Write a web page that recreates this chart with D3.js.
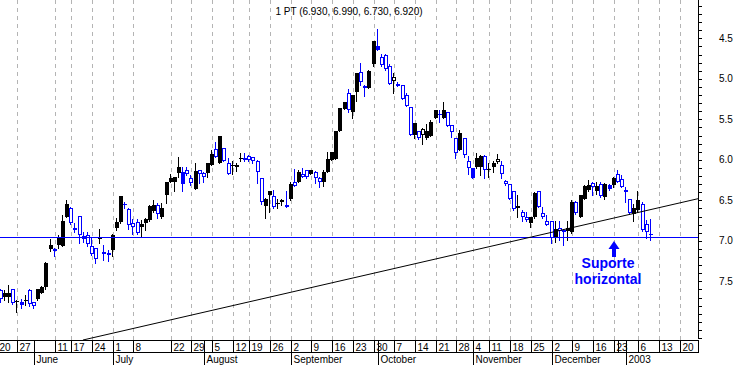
<!DOCTYPE html>
<html><head><meta charset="utf-8">
<script src="https://cdn.jsdelivr.net/npm/d3@7"></script>
<style>html,body{margin:0;padding:0;background:#fff;overflow:hidden}svg{display:block}</style>
</head><body>
<svg id="chart" width="738" height="365"></svg>
<script>
// ---- data: one entry per trading day, 21 May 2002 .. 9 Jan 2003 ----
const opens = [7.61,7.69,7.69,7.59,7.75,7.79,7.74,7.61,7.76,7.72,7.64,7.57,7.10,7.10,7.05,7.06,6.70,6.59,6.87,6.69,
6.94,6.93,7.07,7.09,6.98,7.14,7.15,7.11,6.84,6.77,6.56,6.61,6.78,6.77,6.83,6.78,6.74,6.63,6.56,6.71,
6.43,6.28,6.28,6.16,6.30,6.12,6.23,6.36,6.13,6.16,6.16,6.07,5.87,6.04,5.86,6.04,6.08,6.09,5.99,5.98,
5.95,5.97,6.01,6.23,6.57,6.44,6.45,6.54,6.50,6.58,6.48,6.28,6.27,6.18,6.13,6.17,6.15,6.22,6.27,6.15,
6.00,5.99,5.65,5.37,5.17,5.41,5.16,4.92,5.09,5.11,4.82,4.64,4.73,4.71,4.84,4.98,5.09,5.08,5.20,5.35,
5.69,5.65,5.62,5.73,5.70,5.48,5.45,5.48,5.41,5.57,5.73,5.88,5.73,6.01,6.22,6.09,6.09,5.95,6.12,6.09,
5.99,6.06,6.26,6.30,6.39,6.57,6.64,6.70,6.78,6.71,6.39,6.66,6.76,6.76,6.95,6.84,6.87,6.88,6.89,6.52,
6.71,6.48,6.37,6.29,6.39,6.30,6.46,6.36,6.31,6.18,6.24,6.37,6.49,6.67,6.62,6.54,6.79,6.93];
const highs = [7.76,7.73,7.75,7.78,7.88,7.83,7.79,7.80,7.83,7.73,7.65,7.59,7.13,7.19,7.09,7.06,6.71,6.79,6.89,7.03,
7.01,7.07,7.18,7.28,7.03,7.24,7.25,7.19,6.87,6.78,6.60,6.85,6.91,6.91,6.94,6.87,6.75,6.64,6.72,6.72,
6.53,6.28,6.38,6.21,6.39,6.19,6.31,6.36,6.29,6.28,6.21,6.07,5.97,6.04,6.02,6.18,6.17,6.14,6.02,6.02,
6.02,6.04,6.29,6.54,6.72,6.64,6.60,6.60,6.56,6.58,6.50,6.32,6.27,6.21,6.22,6.18,6.29,6.33,6.32,6.15,
6.00,5.99,5.65,5.37,5.41,5.48,5.28,5.08,5.21,5.11,4.84,4.64,4.84,4.89,5.07,5.18,5.09,5.25,5.34,5.69,
5.73,5.74,5.81,5.74,5.71,5.49,5.53,5.49,5.58,5.72,5.98,5.88,5.96,6.17,6.23,6.10,6.19,6.23,6.21,6.15,
6.04,6.22,6.31,6.49,6.62,6.70,6.76,6.76,6.83,6.72,6.58,6.72,6.81,7.03,7.01,6.99,7.05,6.99,6.90,6.67,
6.71,6.49,6.39,6.43,6.42,6.46,6.48,6.37,6.33,6.28,6.34,6.52,6.67,6.76,6.64,6.88,6.96,6.99];
const lows = [7.59,7.61,7.55,7.59,7.73,7.72,7.67,7.60,7.75,7.59,7.56,7.26,6.98,7.09,6.93,6.68,6.50,6.58,6.78,6.69,
6.89,6.89,6.97,7.09,6.85,7.05,7.11,6.92,6.72,6.45,6.52,6.60,6.73,6.73,6.74,6.72,6.56,6.50,6.53,6.53,
6.27,6.18,6.21,5.97,6.09,6.09,6.19,6.04,6.13,6.15,6.04,5.88,5.78,5.71,5.86,5.98,6.02,6.04,5.92,5.92,
5.94,5.96,6.00,6.23,6.47,6.39,6.37,6.48,6.48,6.38,6.27,6.11,6.13,6.10,6.12,6.12,6.14,6.21,6.13,5.90,
5.90,5.64,5.36,5.29,5.13,5.20,4.93,4.81,5.08,4.89,4.53,4.39,4.69,4.69,4.82,4.93,5.04,5.08,5.18,5.35,
5.55,5.64,5.61,5.56,5.51,5.39,5.39,5.29,5.41,5.57,5.73,5.63,5.73,5.95,6.10,5.92,5.94,5.94,6.04,6.02,
5.93,6.02,6.25,6.30,6.38,6.43,6.62,6.65,6.70,6.40,6.38,6.58,6.68,6.75,6.76,6.76,6.85,6.76,6.50,6.51,
6.43,6.31,6.25,6.27,6.28,6.28,6.29,6.30,6.21,6.12,6.19,6.34,6.48,6.54,6.38,6.52,6.74,6.73];
const closes = [7.72,7.65,7.64,7.77,7.74,7.76,7.73,7.78,7.81,7.60,7.57,7.27,7.05,7.13,6.96,6.76,6.55,6.78,6.84,6.93,
6.98,7.04,7.16,7.23,6.97,7.16,7.18,6.93,6.77,6.45,6.54,6.80,6.83,6.90,6.79,6.73,6.57,6.56,6.67,6.60,
6.28,6.22,6.21,6.09,6.15,6.17,6.29,6.14,6.18,6.21,6.04,5.93,5.96,5.71,6.02,6.17,6.07,6.06,5.98,6.00,
6.00,6.02,6.15,6.52,6.48,6.39,6.58,6.53,6.52,6.56,6.30,6.32,6.15,6.21,6.21,6.13,6.23,6.28,6.15,5.99,
5.90,5.64,5.36,5.29,5.39,5.20,4.93,5.04,5.11,4.90,4.53,4.60,4.83,4.88,5.06,5.03,5.06,5.25,5.33,5.69,
5.55,5.73,5.69,5.65,5.53,5.39,5.43,5.39,5.58,5.66,5.92,5.67,5.94,6.10,6.10,5.98,5.95,6.13,6.11,6.04,
6.03,6.17,6.30,6.48,6.61,6.60,6.71,6.74,6.71,6.41,6.58,6.71,6.80,6.96,6.85,6.88,6.89,6.84,6.52,6.66,
6.43,6.32,6.31,6.34,6.32,6.45,6.30,6.31,6.22,6.27,6.34,6.40,6.66,6.59,6.50,6.87,6.89,6.92];

// bottom axis: trading-day position (1 = first candle) of each weekly tick, and its label
const dayTickPos    = [0,5,14,18,23,28,33,42,47,52,57,61,66,71,76,81,86,91,96,101,106,111,115,119,124,129,134,139,144,149,150,155,160,165];
const dayTickLabels = ["20","27","11","17","24","1","8","22","29","5","12","19","26","2","9","16","23","30","7","14","21","28","4","11","18","25","2","9","16","23","","6","13","20"];
const monthPos    = [9,28,50,71,92,115,134,152];
const monthLabels = ["June","July","August","September","October","November","December","2003"];
// right axis
const yTickValues = [4.5,5.0,5.5,6.0,6.5,7.0,7.5];
const yTickLabels = ["4.5","5.0","5.5","6.0","6.5","7.0","7.5"];
// drawn lines: horizontal support and rising trend line
const supportLevel = 6.95;
const trendPoints = [{pos:20.8, price:8.225},{pos:169.4, price:6.48}];
const annotationPos = 149, annotationPrice = 7.0;
const annotationLines = ["Suporte","horizontal"];
const seriesName = "1 PT";

// ---- layout ----
const W = 738, H = 365;
const plotRight = 698, axisTop = 340, axisMid = 352, axisBottom = 365;
const BLUE = "#0000ff", BLACK = "#000000";
const FONT = "'Liberation Sans', Arial, Helvetica, sans-serif";

const x = d3.scaleLinear().domain([0, 169]).range([-3.2, -3.2 + 4.14*169]);
const y = d3.scaleLinear().domain([4.5, 7.5]).range([38.3, 281.3]);

const svg = d3.select("#chart");
svg.append("rect").attr("width", W).attr("height", H).attr("fill", "#fff");

// gridlines (dashed) at labelled weekly ticks
const gridIdx = dayTickPos.map((p,i)=>i).filter(i => dayTickLabels[i] !== "");
svg.append("g").selectAll("line").data(gridIdx).join("line")
  .attr("x1", i => Math.round(x(dayTickPos[i])) + 0.5)
  .attr("x2", i => Math.round(x(dayTickPos[i])) + 0.5)
  .attr("y1", 0).attr("y2", axisTop)
  .attr("stroke", "#b4b4b4").attr("stroke-width", 1).attr("stroke-dasharray", "4,4");

// candles
const candles = d3.range(closes.length).map(i => ({
  pos: i + 1, o: opens[i], h: highs[i], l: lows[i], c: closes[i],
  color: (i === 0 || closes[i] >= closes[i-1]) ? BLUE : BLACK,
  filled: closes[i] < opens[i]
}));
const cg = svg.append("g");
const cs = cg.selectAll("g").data(candles).join("g");
cs.append("line")
  .attr("x1", d => Math.round(x(d.pos)) - 0.5)
  .attr("x2", d => Math.round(x(d.pos)) - 0.5)
  .attr("y1", d => Math.round(y(d.l)))
  .attr("y2", d => Math.round(y(d.h)) + 1)
  .attr("stroke", d => d.color).attr("stroke-width", 1);
cs.each(function(d){
  const g = d3.select(this);
  const cx = Math.round(x(d.pos));
  const top = Math.round(y(Math.min(d.o, d.c)));
  const bot = Math.round(y(Math.max(d.o, d.c)));
  if (d.filled) {
    g.append("rect").attr("x", cx - 2).attr("y", top).attr("width", 4)
      .attr("height", Math.max(1, bot - top)).attr("fill", d.color);
  } else {
    g.append("rect").attr("x", cx - 1.5).attr("y", top + 0.5).attr("width", 3)
      .attr("height", Math.max(1, bot - top - 1)).attr("fill", "#fff")
      .attr("stroke", d.color).attr("stroke-width", 1);
  }
});

// support line
svg.append("line")
  .attr("x1", 0).attr("x2", plotRight)
  .attr("y1", Math.round(y(supportLevel)) + 0.5).attr("y2", Math.round(y(supportLevel)) + 0.5)
  .attr("stroke", BLUE).attr("stroke-width", 1);
// trend line
svg.append("line")
  .attr("x1", x(trendPoints[0].pos)).attr("y1", y(trendPoints[0].price))
  .attr("x2", x(trendPoints[1].pos)).attr("y2", y(trendPoints[1].price))
  .attr("stroke", BLACK).attr("stroke-width", 1);

// annotation arrow + text
const ax = Math.round(x(annotationPos)), ay = Math.round(y(annotationPrice));
svg.append("path")
  .attr("d", `M${ax},${ay} L${ax-5.5},${ay+8} L${ax-2},${ay+8} L${ax-2},${ay+16} L${ax+2},${ay+16} L${ax+2},${ay+8} L${ax+5.5},${ay+8} Z`)
  .attr("fill", BLUE);
svg.append("g").selectAll("text").data(annotationLines).join("text")
  .attr("x", ax - 6).attr("y", (d,i) => ay + 27 + i*15.5)
  .attr("text-anchor", "middle").attr("font-family", FONT).attr("font-weight", "bold")
  .attr("font-size", 14).attr("fill", BLUE).text(d => d);

// title
const last = candles[candles.length - 1];
svg.append("text").attr("x", 349).attr("y", 15).attr("text-anchor", "middle")
  .attr("font-family", FONT).attr("font-size", 10).attr("fill", BLACK)
  .text(`${seriesName} (${last.o.toFixed(3)}, ${last.h.toFixed(3)}, ${last.l.toFixed(3)}, ${last.c.toFixed(3)})`);

// right axis
const ra = svg.append("g");
ra.append("line").attr("x1", plotRight + 0.5).attr("x2", plotRight + 0.5).attr("y1", 0).attr("y2", 338)
  .attr("stroke", BLACK);
const minor = d3.range(41, 83).map(v => v / 10);
ra.selectAll("line.t").data(minor).join("line").attr("class", "t")
  .attr("x1", plotRight).attr("x2", plotRight + 4)
  .attr("y1", v => Math.round(y(v)) + 0.5).attr("y2", v => Math.round(y(v)) + 0.5)
  .attr("stroke", BLACK);
ra.selectAll("text").data(yTickValues).join("text")
  .attr("x", 719).attr("y", v => y(v) + 3.5)
  .attr("font-family", FONT).attr("font-size", 10).attr("fill", BLACK)
  .text((v,i) => yTickLabels[i]);

// bottom axis
const ba = svg.append("g");
ba.append("line").attr("x1", 0).attr("x2", plotRight + 1).attr("y1", axisTop + 0.5).attr("y2", axisTop + 0.5).attr("stroke", BLACK);
ba.append("line").attr("x1", 0).attr("x2", plotRight + 1).attr("y1", axisMid + 0.5).attr("y2", axisMid + 0.5).attr("stroke", BLACK);
ba.append("line").attr("x1", plotRight + 0.5).attr("x2", plotRight + 0.5).attr("y1", axisTop).attr("y2", axisMid + 1).attr("stroke", BLACK);
ba.selectAll("line.d").data(dayTickPos).join("line").attr("class", "d")
  .attr("x1", p => Math.round(x(p)) + 0.5).attr("x2", p => Math.round(x(p)) + 0.5)
  .attr("y1", axisTop).attr("y2", axisMid).attr("stroke", BLACK);
ba.selectAll("text.d").data(dayTickPos).join("text").attr("class", "d")
  .attr("x", p => Math.round(x(p)) + 2.5).attr("y", axisMid - 1.5)
  .attr("font-family", FONT).attr("font-size", 10).attr("fill", BLACK)
  .text((p,i) => dayTickLabels[i]);
ba.selectAll("line.m").data(monthPos).join("line").attr("class", "m")
  .attr("x1", p => Math.round(x(p)) + 0.5).attr("x2", p => Math.round(x(p)) + 0.5)
  .attr("y1", axisTop).attr("y2", axisBottom).attr("stroke", BLACK);
ba.selectAll("text.m").data(monthPos).join("text").attr("class", "m")
  .attr("x", p => Math.round(x(p)) + 2.5).attr("y", axisBottom - 2)
  .attr("font-family", FONT).attr("font-size", 10).attr("fill", BLACK)
  .text((p,i) => monthLabels[i]);
</script>
</body></html>
